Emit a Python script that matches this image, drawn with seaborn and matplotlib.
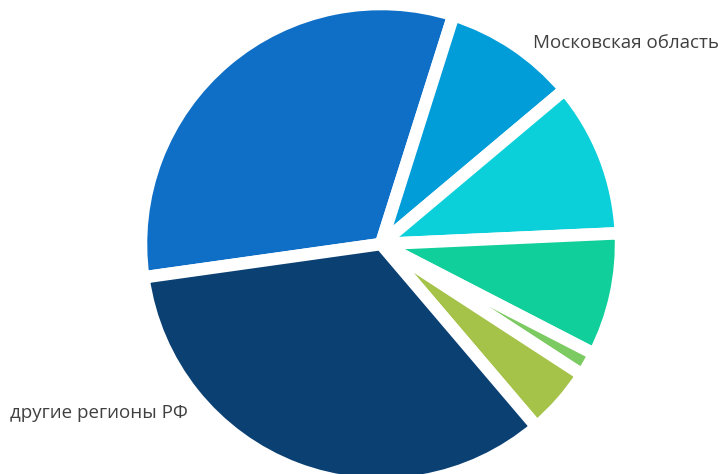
import matplotlib
matplotlib.use("Agg")
import matplotlib.pyplot as plt
import seaborn as sns

# Доли регионов (оценка по рисунку), по часовой стрелке
regions = ["Москва", "Московская область", "Регион 3", "Регион 4",
           "Регион 5", "Регион 6", "другие регионы РФ"]
shares = [32.1, 9.0, 10.4, 8.3, 1.6, 4.6, 34.0]
colors = ["#0F6FC6", "#009DD9", "#0BD0D9", "#10CF9B",
          "#7CCA62", "#A5C249", "#0B4073"]
shown_labels = ["Московская область", "другие регионы РФ"]

sns.set_theme(style="white")
plt.rcParams["font.family"] = ["Open Sans", "DejaVu Sans"]

fig = plt.figure(figsize=(7.18, 4.74), dpi=100)
ax = fig.add_axes([0, 0, 1, 1])

labels = [r if r in shown_labels else "" for r in regions]
wedges, texts = ax.pie(
    shares,
    colors=colors,
    labels=labels,
    startangle=188,
    counterclock=False,
    wedgeprops={"edgecolor": "white", "linewidth": 9, "joinstyle": "bevel"},
    textprops={"fontsize": 13.5, "color": "#404040"},
)

# положение подписей
label_pos = {"Московская область": (0.633, 0.8375),
             "другие регионы РФ": (-1.546, -0.704)}
for t in texts:
    if t.get_text() in label_pos:
        t.set_position(label_pos[t.get_text()])
        t.set_ha("left")
        t.set_va("center")

ax.set_xlim(-1.5875, 1.404)
ax.set_ylim(-0.958, 1.0167)
ax.set_aspect("auto")
ax.axis("off")

fig.savefig("out.png", dpi=100)
